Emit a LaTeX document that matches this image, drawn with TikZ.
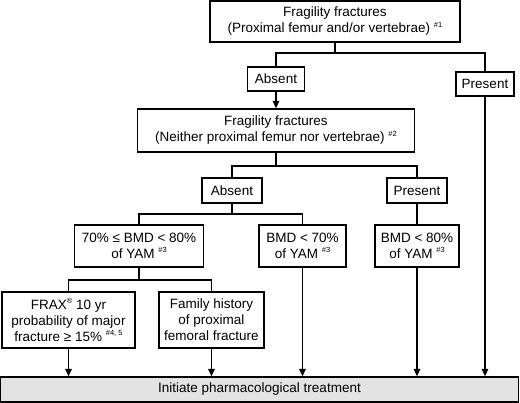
\documentclass[tikz,border=0pt]{standalone}
\usepackage{fontspec}
\setmainfont{Liberation Sans}
\usetikzlibrary{arrows.meta}
\newcommand{\sps}[1]{\raisebox{0.42em}{\fontsize{7.5}{7.5}\selectfont #1}}
\begin{document}
\begin{tikzpicture}[x=1pt,y=-1pt,
  box/.style={draw, line width=1.25pt, align=center, inner sep=0pt,
    font=\fontsize{13.5}{16}\selectfont},
  conn/.style={line width=1.3pt},
  arr/.style={conn,-{Triangle[length=7.5pt,width=6.5pt]}}]
\useasboundingbox (0,0) rectangle (520,403);
% boxes
\node[box, minimum width=250pt, minimum height=41pt] (top) at (335,21.5)
  {Fragility fractures\\(Proximal femur and/or vertebrae) \sps{\#1}};
\node[box, minimum width=57pt, minimum height=24pt] (absent1) at (276,79) {Absent};
\node[box, minimum width=58pt, minimum height=24pt] (present1) at (485,84) {Present};
\node[box, minimum width=277pt, minimum height=43pt] (box2) at (276,130.5)
  {Fragility fractures\\(Neither proximal femur nor vertebrae) \sps{\#2}};
\node[box, minimum width=60pt, minimum height=25pt] (absent2) at (232,190.5) {Absent};
\node[box, minimum width=60pt, minimum height=25pt] (present2) at (417,190.5) {Present};
\node[box, minimum width=129pt, minimum height=42pt] (b70) at (139,246)
  {70\% ≤ BMD < 80\%\\of YAM \sps{\#3}};
\node[box, minimum width=87pt, minimum height=42pt] (bmd70) at (302.5,246)
  {BMD < 70\%\\of YAM \sps{\#3}};
\node[box, minimum width=84pt, minimum height=42pt] (bmd80) at (417,246)
  {BMD < 80\%\\of YAM \sps{\#3}};
\node[box, minimum width=133pt, minimum height=56pt] (frax) at (68.5,320)
  {FRAX\sps{®} 10 yr\\probability of major\\fracture ≥ 15\% \sps{\#4, 5}};
\node[box, minimum width=105pt, minimum height=56pt] (family) at (211.5,320)
  {Family history\\of proximal\\femoral fracture};
\node[box, fill=gray!22, minimum width=518pt, minimum height=25pt] (bottom) at (259.5,389.5)
  {Initiate pharmacological treatment};
% junctions
\coordinate (j1) at (335,53);
\coordinate (j2) at (276,166);
\coordinate (j3) at (232,214);
\coordinate (j4) at (139,280);
% connectors
\draw[conn] (top.south) -- (j1);
\draw[conn] (absent1.north) |- (j1) -| (present1.north);
\draw[arr] (absent1.south) -- (box2.north);
\draw[arr] (present1.south) -- (present1.south |- bottom.north);
\draw[conn] (box2.south) -- (j2);
\draw[conn] (absent2.north) |- (j2) -| (present2.north);
\draw[conn] (absent2.south) -- (j3);
\draw[conn] (b70.north) |- (j3) -| (bmd70.north);
\draw[conn] (present2.south) -- (bmd80.north);
\draw[conn] (b70.south) -- (j4);
\draw[conn] (frax.north) |- (j4) -| (family.north);
\draw[arr] (frax.south) -- (frax.south |- bottom.north);
\draw[arr] (family.south) -- (family.south |- bottom.north);
\draw[arr] (bmd70.south) -- (bmd70.south |- bottom.north);
\draw[arr] (bmd80.south) -- (bmd80.south |- bottom.north);
\end{tikzpicture}
\end{document}
